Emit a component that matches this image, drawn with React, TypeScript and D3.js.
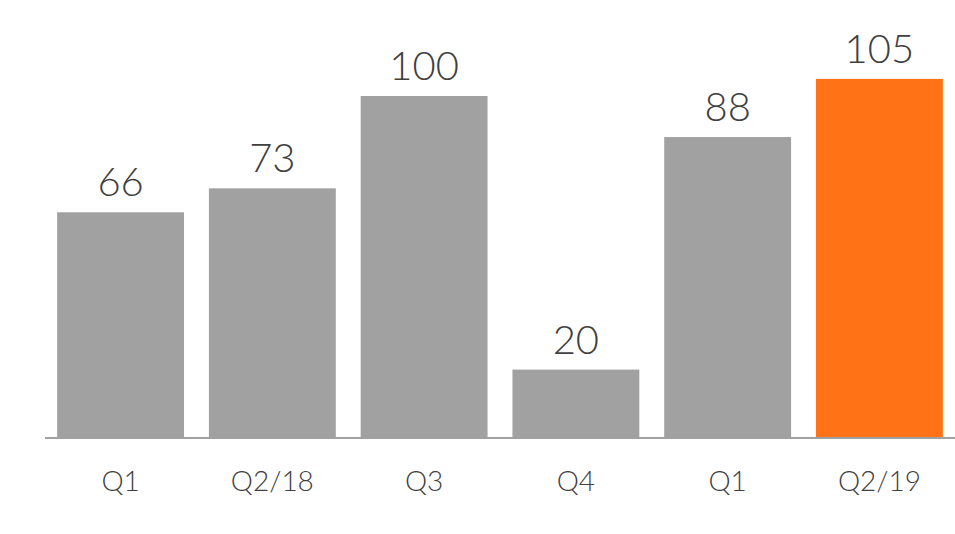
import { useEffect, useRef } from "react";
import * as d3 from "d3";

const categories = ["Q1", "Q2/18", "Q3", "Q4", "Q1", "Q2/19"];
const values = [66, 73, 100, 20, 88, 105];
const highlight = [false, false, false, false, false, true];

export default function App() {
  const svgRef = useRef<SVGSVGElement>(null);

  useEffect(() => {
    if (!svgRef.current) return;
    const svg = d3.select(svgRef.current);
    svg.selectAll("*").remove();

    const width = 955;
    const height = 534;
    const baseline = 438;
    const font = "Lato, 'Open Sans', sans-serif";

    const data = categories.map((c, i) => ({
      key: String(i),
      label: c,
      value: values[i],
      hi: highlight[i],
    }));

    const x = d3
      .scaleBand()
      .domain(data.map((d) => d.key))
      .range([45, width])
      .paddingInner(0.164)
      .paddingOuter(0.08);

    const y = d3.scaleLinear().domain([0, 100]).range([baseline, 96]);

    svg.attr("width", width).attr("height", height);

    svg
      .selectAll("rect.bar")
      .data(data)
      .join("rect")
      .attr("class", "bar")
      .attr("x", (d) => x(d.key)!)
      .attr("width", x.bandwidth())
      .attr("y", (d) => y(d.value))
      .attr("height", (d) => baseline - y(d.value))
      .attr("fill", (d) => (d.hi ? "#FF7316" : "#A1A1A1"));

    svg
      .append("line")
      .attr("x1", 45)
      .attr("x2", width)
      .attr("y1", baseline)
      .attr("y2", baseline)
      .attr("stroke", "#A1A1A1")
      .attr("stroke-width", 2);

    svg
      .selectAll("text.value")
      .data(data)
      .join("text")
      .attr("class", "value")
      .attr("x", (d) => x(d.key)! + x.bandwidth() / 2)
      .attr("y", (d) => y(d.value) - 16)
      .attr("text-anchor", "middle")
      .attr("fill", "#404040")
      .attr("font-family", font)
      .attr("font-weight", 300)
      .attr("font-size", 40)
      .text((d) => d.value);

    svg
      .selectAll("text.cat")
      .data(data)
      .join("text")
      .attr("class", "cat")
      .attr("x", (d) => x(d.key)! + x.bandwidth() / 2)
      .attr("y", 491)
      .attr("text-anchor", "middle")
      .attr("fill", "#404040")
      .attr("font-family", font)
      .attr("font-weight", 300)
      .attr("font-size", 28)
      .text((d) => d.label);
  }, []);

  return (
    <svg
      ref={svgRef}
      style={{ position: "absolute", left: 0, top: 0, background: "#fff" }}
    />
  );
}
